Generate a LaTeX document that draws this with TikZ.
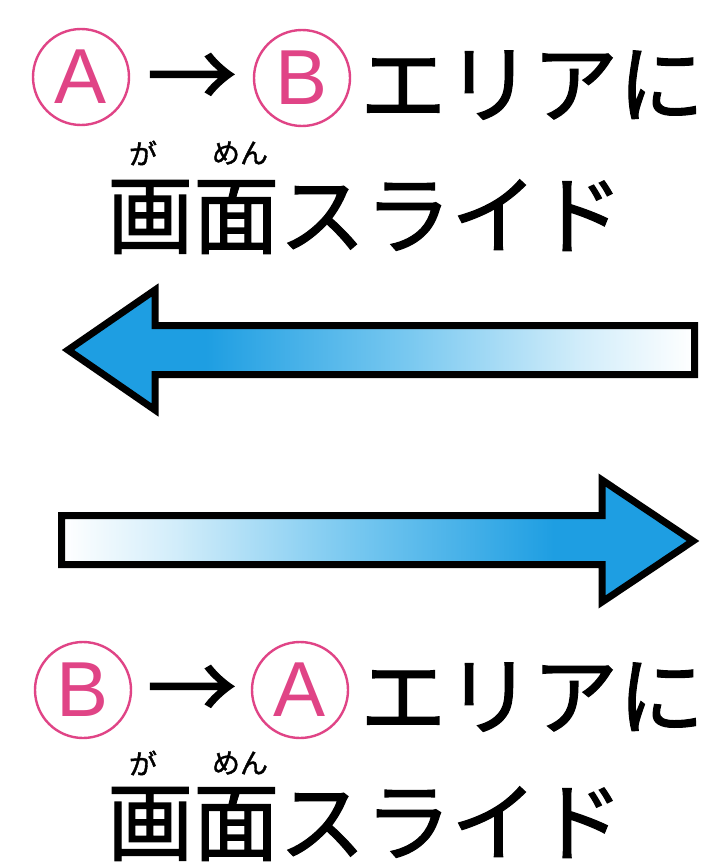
\documentclass[tikz,border=0pt]{standalone}
\usepackage{fontspec}
\newfontfamily\jp[FakeBold=1.4]{Noto Sans CJK JP}
\newfontfamily\latinletter{Liberation Sans}
\definecolor{cpink}{RGB}{224,68,134}
\definecolor{ablue}{RGB}{30,158,226}
\definecolor{amid}{RGB}{120,200,240}
\definecolor{alight}{RGB}{210,237,250}
\pgfdeclarehorizontalshading{arrowfade}{100bp}{color(0bp)=(ablue); color(36bp)=(ablue); color(52bp)=(amid); color(66bp)=(alight); color(75bp)=(white); color(100bp)=(white)}
\tikzset{
  maintext/.style={inner sep=0pt, anchor=base west, font=\jp\fontsize{86}{86}\selectfont},
  rubytext/.style={inner sep=0pt, anchor=center, font=\jp\fontsize{28}{28}\selectfont},
  circletter/.style={circle, draw=cpink, line width=2.4pt, minimum size=96pt, inner sep=0pt, text=cpink, font=\latinletter\fontsize{78}{78}\selectfont},
  arrowtext/.style={inner sep=0pt, anchor=center, font=\jp\fontsize{90}{90}\selectfont},
  bigarrow/.style={draw=black, line width=7pt, line join=miter, miter limit=10}
}
\begin{document}
\begin{tikzpicture}[x=1pt,y=-1pt]
\useasboundingbox[fill=white] (0,0) rectangle (708,867);
% top block
\node[circletter] (a1) at (81,77) {A};
\node[arrowtext] (r1) at (192,81) {→};
\node[circletter] (b1) at (302,78) {B};
\node[maintext] (t1) at (360,116) {エリアに};
\node[maintext] (s1) at (107,247) {画面スライド};
\node[rubytext] (g1) at (143,153) {が};
\node[rubytext] (m1) at (240,153) {めん};
% arrows
\path[bigarrow, shading=arrowfade]
  (68,350) -- (155,290) -- (155,325.5) -- (694.5,325.5) -- (694.5,374.5) -- (155,374.5) -- (155,410) -- cycle;
\path[bigarrow, shading=arrowfade, shading angle=180]
  (61.5,515.5) -- (602,515.5) -- (602,480) -- (693,541) -- (602,602) -- (602,564.5) -- (61.5,564.5) -- cycle;
% bottom block
\node[circletter] (b2) at (83,690) {B};
\node[arrowtext] (r2) at (192,693) {→};
\node[circletter] (a2) at (300,690) {A};
\node[maintext] (t2) at (360,728) {エリアに};
\node[maintext] (s2) at (107,854) {画面スライド};
\node[rubytext] (g2) at (143,763) {が};
\node[rubytext] (m2) at (240,763) {めん};
\end{tikzpicture}
\end{document}
